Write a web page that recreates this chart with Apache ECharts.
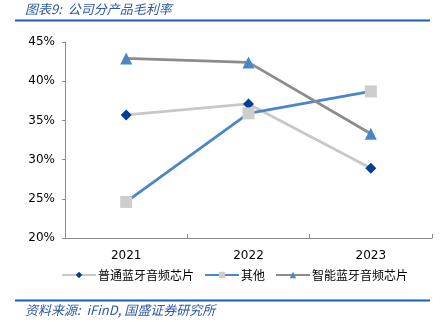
<!DOCTYPE html>
<html><head><meta charset="utf-8">
<script src="https://cdn.jsdelivr.net/npm/echarts@6/dist/echarts.min.js"></script>
<style>html,body{margin:0;padding:0;background:#fff}#c{width:440px;height:322px}</style>
</head><body><div id="c"></div>
<script>
const categories = ['2021', '2022', '2023'];
const seriesNames = ['普通蓝牙音频芯片', '其他', '智能蓝牙音频芯片'];
const ordinaryChip = [35.7, 37.1, 28.9];
const others = [24.6, 35.9, 38.7];
const smartChip = [42.9, 42.4, 33.3];
const titleText = '图表9:  公司分产品毛利率';
const sourceText = '资料来源:  iFinD, 国盛证券研究所';

const chart = echarts.init(document.getElementById('c'), null, {renderer: 'canvas'});
const cjk = '"Noto Sans CJK SC", sans-serif';
chart.setOption({
  animation: false,
  grid: {left: 65, right: 8, top: 42, bottom: 84, containLabel: false},
  legend: {
    bottom: 36, left: 56, itemGap: 10, itemWidth: 34, itemHeight: 8,
    textStyle: {fontFamily: cjk, fontSize: 12, color: '#000', padding: [0, 0, 0, -3]},
    data: seriesNames
  },
  xAxis: {
    type: 'category', data: categories, boundaryGap: true,
    axisLine: {lineStyle: {color: '#8c8c8c', width: 1}},
    axisTick: {show: true, length: 4, inside: true, lineStyle: {color: '#8c8c8c'}},
    axisLabel: {fontFamily: 'Verdana, "DejaVu Sans", sans-serif', fontSize: 12, color: '#000', margin: 12}
  },
  yAxis: {
    type: 'value', min: 20, max: 45, interval: 5,
    splitLine: {show: false},
    axisLine: {show: true, lineStyle: {color: '#8c8c8c', width: 1}},
    axisTick: {show: true, length: 3, lineStyle: {color: '#8c8c8c'}},
    axisLabel: {formatter: '{value}%', fontFamily: 'Verdana, "DejaVu Sans", sans-serif', fontSize: 12, color: '#000', margin: 10}
  },
  series: [
    {name: seriesNames[0], type: 'line', data: ordinaryChip, symbol: 'diamond', symbolSize: 11,
     lineStyle: {color: '#c8c8c8', width: 2.75}, itemStyle: {color: '#003f91'}},
    {name: seriesNames[1], type: 'line', data: others, symbol: 'rect', symbolSize: 12,
     lineStyle: {color: '#4a86c8', width: 2.75}, itemStyle: {color: '#cdcdcd'}},
    {name: seriesNames[2], type: 'line', data: smartChip, symbol: 'triangle', symbolSize: 12,
     lineStyle: {color: '#8c8c8c', width: 2.75}, itemStyle: {color: '#4a86c8'}}
  ],
  graphic: [
    {type: 'text', left: 25, top: 3, style: {text: titleText, font: 'italic 13px ' + cjk, fill: '#2b59a6'}},
    {type: 'line', shape: {x1: 15, y1: 20.5, x2: 430, y2: 20.5}, style: {stroke: '#1f5cb8', lineWidth: 2}},
    {type: 'line', shape: {x1: 15, y1: 300.5, x2: 430, y2: 300.5}, style: {stroke: '#1f5cb8', lineWidth: 2}},
    {type: 'text', left: 25, top: 304, style: {text: sourceText, font: 'italic 13px ' + cjk, fill: '#2b59a6'}}
  ]
});
</script></body></html>
